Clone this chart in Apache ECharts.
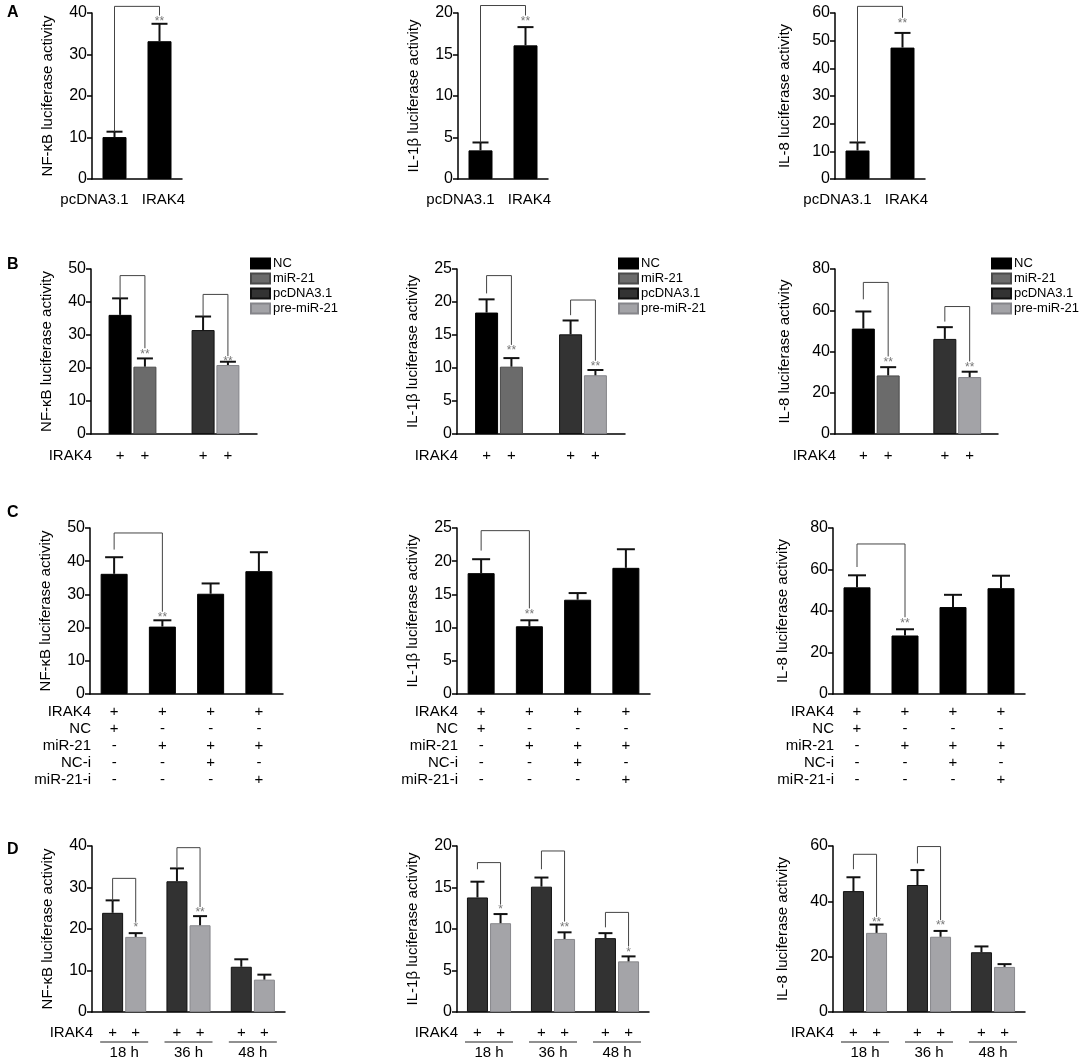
<!DOCTYPE html>
<html>
<head>
<meta charset="utf-8">
<script src="https://cdn.jsdelivr.net/npm/echarts@6.0.0/dist/echarts.min.js"></script>
<style>
  html, body { margin: 0; background: #fff; }
  #main { width: 1084px; height: 1062px; }
</style>
</head>
<body>
<div id="main"></div>
<script>
const FONT = '"Liberation Sans", Arial, sans-serif';

// ---------- A: pcDNA3.1 vs IRAK4 ----------
const aCats = ['pcDNA3.1', 'IRAK4'];
const aNfkb = [10.1, 33.2];
const aNfkbErr = [1.3, 4.2];
const aIl1b = [3.45, 16.1];
const aIl1bErr = [0.95, 2.2];
const aIl8 = [10.3, 47.5];
const aIl8Err = [2.9, 5.3];
// brackets: [left category, top, left leg end, right leg end]
const aNfkbSig = [[0, 41.6, 11.4, 39.4]];
const aIl1bSig = [[0, 20.9, 4.4, 19.7]];
const aIl8Sig = [[0, 62.4, 13.2, 58.3]];
const aStars = ['**'];

// ---------- B: NC / miR-21 / pcDNA3.1 / pre-miR-21 ----------
const bGroups = ['NC / miR-21', 'pcDNA3.1 / pre-miR-21'];
const bNames = ['NC', 'miR-21', 'pcDNA3.1', 'pre-miR-21'];
const bNfkb = [36.1, 20.4, 31.5, 20.9];
const bNfkbErr = [5.0, 2.5, 4.1, 1.0];
const bIl1b = [18.4, 10.2, 15.1, 8.9];
const bIl1bErr = [2.0, 1.3, 2.1, 0.8];
const bIl8 = [51.1, 28.4, 46.1, 27.6];
const bIl8Err = [8.3, 4.0, 5.7, 2.6];
// brackets: [group, top, left leg end, right leg end]
const bNfkbSig = [[0, 48.0, 41.1, 26.0], [1, 42.3, 35.6, 23.6]];
const bIl1bSig = [[0, 24.0, 21.3, 13.5], [1, 20.3, 18.0, 11.1]];
const bIl8Sig = [[0, 73.5, 65.3, 37.6], [1, 61.8, 54.5, 35.2]];
const bStars = ['**', '**'];

// ---------- C: inhibitor table ----------
const cRows = ['IRAK4', 'NC', 'miR-21', 'NC-i', 'miR-21-i'];
const cSigns = [
  ['+', '+', '-', '-', '-'],
  ['+', '-', '+', '-', '-'],
  ['+', '-', '+', '+', '-'],
  ['+', '-', '+', '-', '+']
];
const cNfkb = [36.2, 20.3, 30.2, 37.0];
const cNfkbErr = [5.0, 1.9, 3.1, 5.7];
const cIl1b = [18.2, 10.2, 14.2, 19.0];
const cIl1bErr = [2.1, 0.9, 1.0, 2.8];
const cIl8 = [51.4, 28.2, 41.9, 51.0];
const cIl8Err = [5.8, 3.0, 5.9, 6.0];
const cNfkbSig = [[0, 48.5, 43.5, 24.8]];
const cIl1bSig = [[0, 24.6, 21.6, 12.9]];
const cIl8Sig = [[0, 72.3, 61.2, 37.0]];
const cStars = ['**'];

// ---------- D: time course ----------
const dTimes = ['18 h', '36 h', '48 h'];
const dNfkbCtl = [23.9, 31.5, 10.9];
const dNfkbCtlErr = [3.0, 3.1, 1.8];
const dNfkbMir = [18.1, 20.9, 7.8];
const dNfkbMirErr = [0.9, 2.2, 1.2];
const dIl1bCtl = [13.8, 15.1, 8.9];
const dIl1bCtlErr = [1.9, 1.1, 0.6];
const dIl1bMir = [10.7, 8.8, 6.1];
const dIl1bMirErr = [1.1, 0.8, 0.6];
const dIl8Ctl = [43.7, 45.9, 21.6];
const dIl8CtlErr = [5.0, 5.4, 2.1];
const dIl8Mir = [28.6, 27.2, 16.3];
const dIl8MirErr = [3.0, 2.1, 1.0];
const dNfkbSig = [[0, 32.2, 26.8, 21.7], [1, 39.6, 34.8, 25.3]];
const dNfkbStars = ['*', '**'];
const dIl1bSig = [[0, 18.0, 17.2, 13.0], [1, 19.4, 17.2, 10.9], [2, 12.0, 10.2, 7.9]];
const dIl1bStars = ['*', '**', '*'];
const dIl8Sig = [[0, 57.0, 51.6, 34.4], [1, 59.8, 53.7, 33.2]];
const dIl8Stars = ['**', '**'];

const NAME_NFKB = 'NF-κB luciferase activity';
const NAME_IL1B = 'IL-1β luciferase activity';
const NAME_IL8 = 'IL-8 luciferase activity';

const chart = echarts.init(document.getElementById('main'));
const grid = [], xAxis = [], yAxis = [], series = [], legend = [], graphic = [];
let n = 0;

function panel(box, cats, yMax, yStep, yName, nameGap, label) {
  const i = n++;
  grid.push({ left: box[0], top: box[1], width: box[2], height: box[3] });
  xAxis.push({
    type: 'category', gridIndex: i, data: cats,
    axisLine: { lineStyle: { color: '#000', width: 1.5 } },
    axisTick: { alignWithLabel: true, length: 5, lineStyle: { color: '#000', width: 1.5 } },
    axisLabel: Object.assign({ color: '#000', fontSize: 15, fontFamily: FONT, interval: 0, margin: 14 }, label || {}),
    splitLine: { show: false }
  });
  yAxis.push({
    type: 'value', gridIndex: i, min: 0, max: yMax, interval: yStep,
    name: yName, nameLocation: 'middle', nameGap: nameGap,
    nameTextStyle: { color: '#000', fontSize: 15, fontFamily: FONT },
    axisLine: { show: true, lineStyle: { color: '#000', width: 1.5 } },
    axisTick: { show: true, length: 5, lineStyle: { color: '#000', width: 1.5 } },
    axisLabel: { color: '#000', fontSize: 16, fontFamily: FONT, margin: 5 },
    splitLine: { show: false }
  });
  return i;
}

function bars(i, name, data, color, border, bw, gap, stack) {
  series.push({
    type: 'bar', name: name, xAxisIndex: i, yAxisIndex: i, data: data,
    stack: stack, barWidth: bw, barGap: gap, silent: true,
    itemStyle: { color: color, borderColor: border, borderWidth: 1 }
  });
}

// items: [category, mean, err]; offset = px shift from category centre
function errors(i, items, offset, cap) {
  series.push({
    type: 'custom', xAxisIndex: i, yAxisIndex: i, z: 4, silent: true,
    data: items,
    renderItem: function (params, api) {
      const c = api.value(0), m = api.value(1), e = api.value(2);
      const x = api.coord([c, 0])[0] + offset;
      const y0 = api.coord([c, m])[1];
      const y1 = api.coord([c, m + e])[1];
      const st = { stroke: '#111', lineWidth: 2 };
      return {
        type: 'group', children: [
          { type: 'line', shape: { x1: x, y1: y0, x2: x, y2: y1 }, style: st },
          { type: 'line', shape: { x1: x - cap, y1: y1, x2: x + cap, y2: y1 }, style: st }
        ]
      };
    }
  });
}

function brackets(i, sig, stars, lOff, rOff, step) {
  series.push({
    type: 'custom', xAxisIndex: i, yAxisIndex: i, z: 5, silent: true,
    data: sig,
    renderItem: function (params, api) {
      const lc = api.value(0), rc = lc + step;
      const xl = api.coord([lc, 0])[0] + lOff;
      const xr = api.coord([rc, 0])[0] + rOff;
      const yt = api.coord([lc, api.value(1)])[1];
      const yl = api.coord([lc, api.value(2)])[1];
      const yr = api.coord([lc, api.value(3)])[1];
      return {
        type: 'group', children: [
          { type: 'polyline', shape: { points: [[xl, yl], [xl, yt], [xr, yt], [xr, yr]] },
            style: { stroke: '#444', lineWidth: 1, fill: 'none' } },
          { type: 'text', style: { x: xr, y: yr + 6, text: stars[params.dataIndex], fill: '#777',
            fontSize: 12, fontFamily: FONT, align: 'center', verticalAlign: 'middle' } }
        ]
      };
    }
  });
}

function text(x, y, t, size, weight, align) {
  graphic.push({
    type: 'text', x: x, y: y,
    style: { text: t, fill: '#000', font: (weight || 'normal') + ' ' + size + 'px ' + FONT,
      align: align, textAlign: align, verticalAlign: 'middle', textVerticalAlign: 'middle' }
  });
}

const nameGaps = [37, 37, 43];

// ---------- row A ----------
const aLeft = [92, 458, 835];
const aSets = [
  [aNfkb, aNfkbErr, aNfkbSig, 40, 10, NAME_NFKB],
  [aIl1b, aIl1bErr, aIl1bSig, 20, 5, NAME_IL1B],
  [aIl8, aIl8Err, aIl8Sig, 60, 10, NAME_IL8]
];
aSets.forEach(function (s, k) {
  const i = panel([aLeft[k], 13, 90, 166], aCats, s[3], s[4], s[5], nameGaps[k], {
    margin: 13,
    formatter: function (v, idx) { return idx === 0 ? '{l|' + v + '}' : '{r|' + v + '}'; },
    rich: {
      l: { fontSize: 15, fontFamily: FONT, color: '#000', padding: [0, 40, 0, 0] },
      r: { fontSize: 15, fontFamily: FONT, color: '#000', padding: [0, 0, 0, 8] }
    }
  });
  bars(i, 'A' + k, s[0], '#000', '#000', 24, '0%');
  errors(i, s[0].map(function (m, c) { return [c, m, s[1][c]]; }), 0, 8);
  brackets(i, s[2], aStars, 0, 0, 1);
});

// ---------- row B ----------
const bLeft = [91, 457, 835];
const bWidth = [166, 168, 163];
const bColors = ['#000000', '#6b6b6b', '#333333', '#a3a3a7'];
const bBorders = ['#000000', '#4a4a4a', '#111111', '#85858a'];
const bBw = 23, bGapPct = 0.08;
const bOff = bBw * (1 + bGapPct) / 2;
const bSets = [
  [bNfkb, bNfkbErr, bNfkbSig, 50, 10, NAME_NFKB],
  [bIl1b, bIl1bErr, bIl1bSig, 25, 5, NAME_IL1B],
  [bIl8, bIl8Err, bIl8Sig, 80, 20, NAME_IL8]
];
bSets.forEach(function (s, k) {
  const i = panel([bLeft[k], 269, bWidth[k], 165], bGroups, s[3], s[4], s[5], nameGaps[k], {
    margin: 14,
    formatter: function () { return '{p|+}{p|+}'; },
    rich: { p: { width: bOff * 2, align: 'center', fontSize: 15, fontFamily: FONT, color: '#000' } }
  });
  bNames.forEach(function (name, j) {
    const grp = j >> 1;
    const data = ['-', '-'];
    data[grp] = s[0][j];
    bars(i, name, data, bColors[j], bBorders[j], bBw, (bGapPct * 100) + '%', 'p' + i + '_' + (j % 2));
    errors(i, [[grp, s[0][j], s[1][j]]], j % 2 ? bOff : -bOff, 8);
  });
  brackets(i, s[2], bStars, -bOff, bOff, 0);
  legend.push({
    left: bLeft[k] + bWidth[k] - 7, top: 257, orient: 'vertical', padding: 0,
    data: bNames, icon: 'rect', itemWidth: 19, itemHeight: 10, itemGap: 2,
    selectedMode: false,
    textStyle: { color: '#000', fontSize: 13, fontFamily: FONT, lineHeight: 13, padding: [0, 0, 0, -2] }
  });
  text(bLeft[k] + 1, 456, 'IRAK4', 15, 'normal', 'right');
});

// ---------- row C ----------
const cLeft = [90, 457, 833];
const cWidth = [193, 193, 192];
const cSets = [
  [cNfkb, cNfkbErr, cNfkbSig, 50, 10, NAME_NFKB],
  [cIl1b, cIl1bErr, cIl1bSig, 25, 5, NAME_IL1B],
  [cIl8, cIl8Err, cIl8Sig, 80, 20, NAME_IL8]
];
const cCats = cSigns.map(function (col) { return col.join('\n'); });
cSets.forEach(function (s, k) {
  const i = panel([cLeft[k], 528, cWidth[k], 166], cCats, s[3], s[4], s[5], nameGaps[k], {
    margin: 9, lineHeight: 17
  });
  bars(i, 'C' + k, s[0], '#000', '#000', 27, '0%');
  errors(i, s[0].map(function (m, c) { return [c, m, s[1][c]]; }), 0, 9);
  brackets(i, s[2], cStars, 0, 0, 1);
  cRows.forEach(function (r, j) { text(cLeft[k] + 1, 712 + j * 17, r, 15, 'normal', 'right'); });
});

// ---------- row D ----------
const dLeft = [92, 457, 833];
const dWidth = [193, 192, 192];
const dBw = 21, dGapPct = 0.1;
const dOff = dBw * (1 + dGapPct) / 2;
const dSets = [
  [dNfkbCtl, dNfkbCtlErr, dNfkbMir, dNfkbMirErr, dNfkbSig, dNfkbStars, 40, 10, NAME_NFKB],
  [dIl1bCtl, dIl1bCtlErr, dIl1bMir, dIl1bMirErr, dIl1bSig, dIl1bStars, 20, 5, NAME_IL1B],
  [dIl8Ctl, dIl8CtlErr, dIl8Mir, dIl8MirErr, dIl8Sig, dIl8Stars, 60, 20, NAME_IL8]
];
dSets.forEach(function (s, k) {
  const i = panel([dLeft[k], 846, dWidth[k], 166], dTimes, s[6], s[7], s[8], nameGaps[k], {
    margin: 13,
    formatter: function (v) { return '{p|+}{p|+}\n{ln| }\n{t|' + v + '}'; },
    rich: {
      p: { width: dOff * 2, align: 'center', fontSize: 15, lineHeight: 16, fontFamily: FONT, color: '#000' },
      ln: { width: 48, height: 1, lineHeight: 2, backgroundColor: '#222', fontSize: 1 },
      t: { fontSize: 15, lineHeight: 19, fontFamily: FONT, color: '#000' }
    }
  });
  bars(i, 'ctl' + k, s[0], '#323232', '#111', dBw, (dGapPct * 100) + '%');
  bars(i, 'mir' + k, s[2], '#a4a4a8', '#88888c', dBw, (dGapPct * 100) + '%');
  errors(i, s[0].map(function (m, c) { return [c, m, s[1][c]]; }), -dOff, 7);
  errors(i, s[2].map(function (m, c) { return [c, m, s[3][c]]; }), dOff, 7);
  brackets(i, s[4], s[5], -dOff, dOff, 0);
  text(dLeft[k] + 1, 1033, 'IRAK4', 15, 'normal', 'right');
});

// panel letters
text(7, 13, 'A', 16, 'bold', 'left');
text(7, 265, 'B', 16, 'bold', 'left');
text(7, 513, 'C', 16, 'bold', 'left');
text(7, 850, 'D', 16, 'bold', 'left');

chart.setOption({
  animation: false,
  backgroundColor: '#fff',
  grid: grid,
  xAxis: xAxis,
  yAxis: yAxis,
  legend: legend,
  graphic: graphic,
  series: series
});
</script>
</body>
</html>
